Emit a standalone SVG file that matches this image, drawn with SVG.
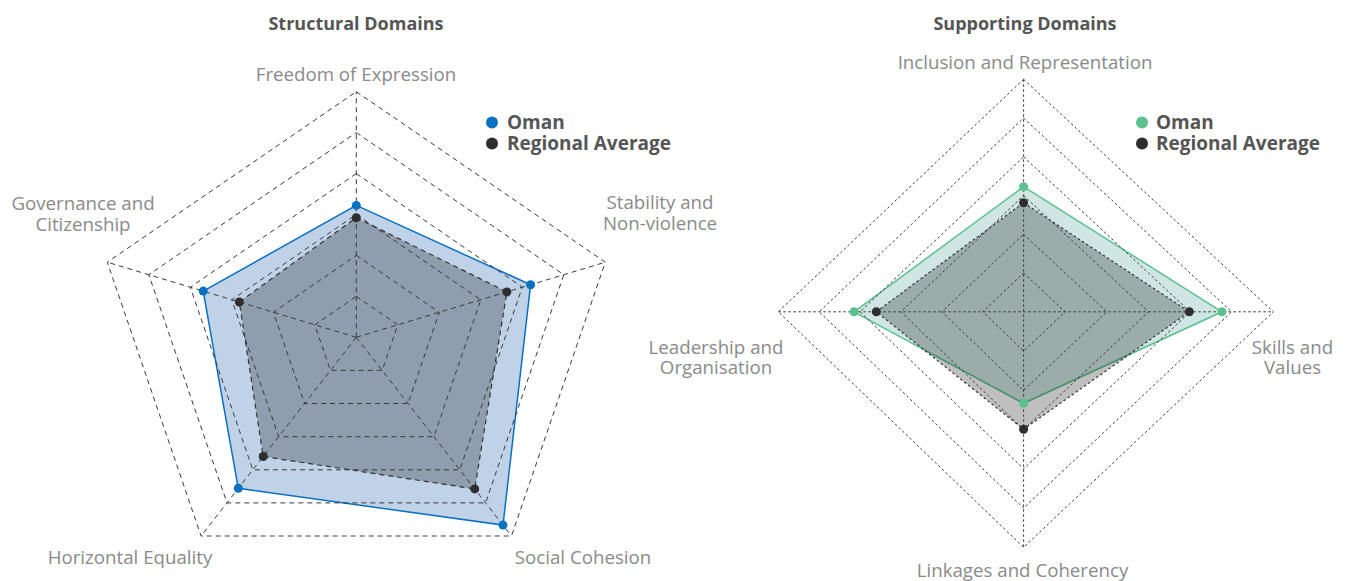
<svg xmlns="http://www.w3.org/2000/svg" width="1349" height="581" viewBox="0 0 1349 581">
<style>
.title{font-family:"Open Sans","Liberation Sans",sans-serif;font-weight:bold;font-size:18px;fill:#555;text-anchor:middle}
.leg{font-family:"Open Sans","Liberation Sans",sans-serif;font-weight:bold;font-size:19px;fill:#555}
.lab{font-family:"Open Sans","Liberation Sans",sans-serif;font-size:18.7px;fill:#8a8a8a;text-anchor:middle}
.gridL{fill:none;stroke:#3a3a3a;stroke-width:1;stroke-dasharray:5 4}
.gridR{fill:none;stroke:#3a3a3a;stroke-width:1;stroke-dasharray:2.5 2.5}
.regL{fill:#000;fill-opacity:0.25;stroke:#333;stroke-width:1.2;stroke-dasharray:5 4}
.regR{fill:#000;fill-opacity:0.25;stroke:#333;stroke-width:1.2;stroke-dasharray:2.5 2.5}
.omanB{fill:#bfd2e8;stroke:#0a70c0;stroke-width:1.5}
.omanG{fill:#cfe6e4;stroke:#5cc08f;stroke-width:1.5}
.dB{fill:#0a70c0}
.dG{fill:#5cc08f}
.dK{fill:#2e2e2e}
</style>

<g id="structural-domains">
  <text class="title" x="356" y="30">Structural Domains</text>
  <g id="left-series">
    <polygon id="left-oman-area" class="omanB" points="356.3,205.4 530.6,284.7 503.0,525.1 238.3,488.3 203.2,291.1"/>
    <polygon id="left-regional-area" class="regL" points="356.3,217.7 506.9,291.9 474.7,488.9 263.2,456.5 239.3,302.0"/>
  </g>
  <g id="left-grid">
    <polygon class="gridL" points="356.3,296.4 397.8,324.8 382.2,370.4 330.4,370.4 314.8,324.8"/>
    <polygon class="gridL" points="356.3,255.4 439.3,312.3 408.0,403.5 304.6,403.5 273.3,312.3"/>
    <polygon class="gridL" points="356.3,214.5 480.8,299.8 433.9,436.7 278.7,436.7 231.8,299.8"/>
    <polygon class="gridL" points="356.3,173.6 522.3,287.2 459.8,469.8 252.8,469.8 190.3,287.2"/>
    <polygon class="gridL" points="356.3,132.6 563.8,274.7 485.6,502.9 227.0,502.9 148.8,274.7"/>
    <polygon class="gridL" points="356.3,91.7 605.3,262.2 511.5,536.0 201.1,536.0 107.3,262.2"/>
  </g>
  <g id="left-spokes">
    <line class="gridL" x1="356.3" y1="337.3" x2="356.3" y2="91.7"/>
    <line class="gridL" x1="356.3" y1="337.3" x2="605.3" y2="262.2"/>
    <line class="gridL" x1="356.3" y1="337.3" x2="511.5" y2="536.0"/>
    <line class="gridL" x1="356.3" y1="337.3" x2="201.1" y2="536.0"/>
    <line class="gridL" x1="356.3" y1="337.3" x2="107.3" y2="262.2"/>
  </g>
  <g id="left-points">
    <circle class="dB" cx="356.3" cy="205.4" r="4.5"/>
    <circle class="dB" cx="530.6" cy="284.7" r="4.5"/>
    <circle class="dB" cx="503.0" cy="525.1" r="4.5"/>
    <circle class="dB" cx="238.3" cy="488.3" r="4.5"/>
    <circle class="dB" cx="203.2" cy="291.1" r="4.5"/>
    <circle class="dK" cx="356.3" cy="217.7" r="4.5"/>
    <circle class="dK" cx="506.9" cy="291.9" r="4.5"/>
    <circle class="dK" cx="474.7" cy="488.9" r="4.5"/>
    <circle class="dK" cx="263.2" cy="456.5" r="4.5"/>
    <circle class="dK" cx="239.3" cy="302.0" r="4.5"/>
  </g>
  <g id="left-labels">
    <text class="lab" x="356" y="81">Freedom of Expression</text>
    <text class="lab" x="660" y="209">Stability and</text>
    <text class="lab" x="660" y="229.5">Non-violence</text>
    <text class="lab" x="583" y="564">Social Cohesion</text>
    <text class="lab" x="130" y="564">Horizontal Equality</text>
    <text class="lab" x="83" y="210">Governance and</text>
    <text class="lab" x="83" y="230.5">Citizenship</text>
  </g>
  <g id="left-legend">
    <circle class="dB" cx="492" cy="122.5" r="6"/>
    <text class="leg" x="507" y="129">Oman</text>
    <circle class="dK" cx="492" cy="143.5" r="6"/>
    <text class="leg" x="507" y="150">Regional Average</text>
  </g>
</g>

<g id="supporting-domains">
  <text class="title" x="1025" y="30">Supporting Domains</text>
  <g id="right-series">
    <polygon id="right-oman-area" class="omanG" points="1023.6,186.7 1222,311.8 1023.6,403.3 854,311.8"/>
    <polygon id="right-regional-area" class="regR" points="1023.6,202.7 1189.3,311.8 1023.6,429.3 876.3,311.8"/>
  </g>
  <g id="right-grid">
    <polygon class="gridR" points="1023.6,273.05 1065.22,311.8 1023.6,351.05 982.72,311.8"/>
    <polygon class="gridR" points="1023.6,234.3 1106.83,311.8 1023.6,390.3 941.83,311.8"/>
    <polygon class="gridR" points="1023.6,195.55 1148.45,311.8 1023.6,429.55 900.95,311.8"/>
    <polygon class="gridR" points="1023.6,156.8 1190.07,311.8 1023.6,468.8 860.07,311.8"/>
    <polygon class="gridR" points="1023.6,118.05 1231.68,311.8 1023.6,508.05 819.18,311.8"/>
    <polygon class="gridR" points="1023.6,79.3 1273.3,311.8 1023.6,547.3 778.3,311.8"/>
  </g>
  <g id="right-spokes">
    <line class="gridR" x1="1023.6" y1="79.3" x2="1023.6" y2="547.3"/>
    <line class="gridR" x1="778.3" y1="311.8" x2="1273.3" y2="311.8"/>
  </g>
  <g id="right-points">
    <circle class="dG" cx="1023.6" cy="186.7" r="4.5"/>
    <circle class="dG" cx="1222" cy="311.8" r="4.5"/>
    <circle class="dG" cx="1023.6" cy="403.3" r="4.5"/>
    <circle class="dG" cx="854" cy="311.8" r="4.5"/>
    <circle class="dK" cx="1023.6" cy="202.7" r="4.5"/>
    <circle class="dK" cx="1189.3" cy="311.8" r="4.5"/>
    <circle class="dK" cx="1023.6" cy="429.3" r="4.5"/>
    <circle class="dK" cx="876.3" cy="311.8" r="4.5"/>
  </g>
  <g id="right-labels">
    <text class="lab" x="1025" y="69">Inclusion and Representation</text>
    <text class="lab" x="1292.5" y="353.5">Skills and</text>
    <text class="lab" x="1292.5" y="374">Values</text>
    <text class="lab" x="1022.5" y="577">Linkages and Coherency</text>
    <text class="lab" x="716" y="353.5">Leadership and</text>
    <text class="lab" x="716" y="374">Organisation</text>
  </g>
  <g id="right-legend">
    <circle class="dG" cx="1142" cy="122.5" r="6"/>
    <text class="leg" x="1156" y="129">Oman</text>
    <circle class="dK" cx="1142" cy="143.5" r="6"/>
    <text class="leg" x="1156" y="150">Regional Average</text>
  </g>
</g>
</svg>
